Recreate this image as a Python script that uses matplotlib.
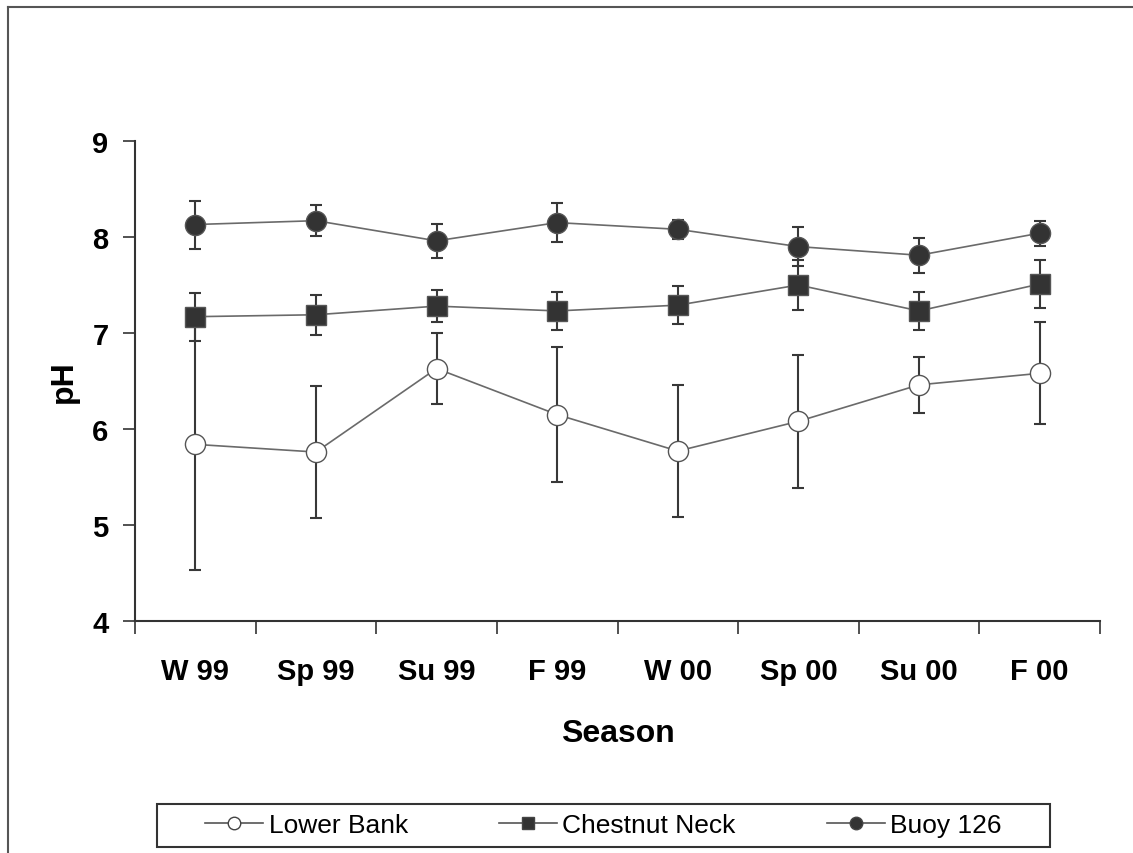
import numpy as np
import matplotlib
matplotlib.use('Agg')
import matplotlib.pyplot as plt
from matplotlib.lines import Line2D

plt.rcParams['font.family'] = ['Liberation Sans', 'DejaVu Sans']

# Data
seasons = ['W 99', 'Sp 99', 'Su 99', 'F 99', 'W 00', 'Sp 00', 'Su 00', 'F 00']
lower_bank = [5.84, 5.76, 6.63, 6.15, 5.77, 6.08, 6.46, 6.58]
lower_bank_err = [1.31, 0.69, 0.37, 0.70, 0.69, 0.69, 0.29, 0.53]
chestnut = [7.17, 7.19, 7.28, 7.23, 7.29, 7.50, 7.23, 7.51]
chestnut_err = [0.25, 0.21, 0.17, 0.20, 0.20, 0.26, 0.20, 0.25]
buoy = [8.13, 8.17, 7.96, 8.15, 8.08, 7.90, 7.81, 8.04]
buoy_err = [0.25, 0.16, 0.18, 0.20, 0.10, 0.20, 0.18, 0.13]

series = [
    ('Lower Bank', lower_bank, lower_bank_err, 'o', 'white'),
    ('Chestnut Neck', chestnut, chestnut_err, 's', '#333333'),
    ('Buoy 126', buoy, buoy_err, 'o', '#333333'),
]

fig = plt.figure(figsize=(11.33, 8.54), dpi=100)
ax = fig.add_axes([135 / 1133, 1 - 622 / 854, (1100 - 135) / 1133, (622 - 142) / 854])

x = np.arange(len(seasons))

# error bars first so markers sit on top
for name, vals, err, mk, fc in series:
    ax.errorbar(x, vals, yerr=err, fmt='none', ecolor='#383838', elinewidth=1.5,
                capsize=4.5, capthick=1.5, zorder=2)

handles = []
for name, vals, err, mk, fc in series:
    ax.plot(x, vals, color='#6a6a6a', lw=1.2, marker=mk, markersize=14.5,
            markerfacecolor=fc, markeredgecolor='#555555', markeredgewidth=1.0,
            zorder=3)
    handles.append(Line2D([], [], color='#555555', lw=1.2, marker=mk, markersize=9,
                          markerfacecolor=fc, markeredgecolor='#444444',
                          markeredgewidth=1.0, label=name))

ax.set_xlim(-0.5, len(seasons) - 0.5)
ax.set_ylim(4, 9)
ax.set_yticks([4, 5, 6, 7, 8, 9])
ax.set_xticks(np.arange(-0.5, len(seasons), 1.0))
ax.set_xticklabels([])
ax.set_xticks(x, minor=True)
ax.set_xticklabels(seasons, minor=True, fontsize=21, fontweight='bold')
ax.tick_params(axis='x', which='minor', length=0, pad=26)
ax.tick_params(axis='x', which='major', direction='out', length=9, width=1.2,
               color='#333333')
ax.tick_params(axis='y', direction='out', length=9, width=1.2, color='#333333',
               pad=10, labelsize=21)
for lab in ax.get_yticklabels():
    lab.set_fontweight('bold')

for s in ['top', 'right']:
    ax.spines[s].set_visible(False)
for s in ['left', 'bottom']:
    ax.spines[s].set_linewidth(1.5)
    ax.spines[s].set_color('#333333')

ax.set_xlabel('Season', fontsize=23, fontweight='bold', labelpad=24)
ax.set_ylabel('pH', fontsize=23, fontweight='bold', labelpad=10)

leg = fig.legend(handles=handles, loc='center', ncol=3,
                 bbox_to_anchor=(157 / 1133, 1 - 848 / 854, (1050 - 157) / 1133, 43 / 854),
                 fontsize=19, frameon=False,
                 handlelength=2.2, handletextpad=0.2, columnspacing=3.45,
                 borderaxespad=0, borderpad=0.2)
# legend box spans the fixed rectangle
fig.add_artist(plt.Rectangle((157 / 1133, 1 - 848 / 854), (1050 - 157) / 1133, 43 / 854,
                             transform=fig.transFigure, fill=False,
                             edgecolor='#333333', lw=1.5))

# outer frame (left and top edges visible)
fig.add_artist(Line2D([8 / 1133, 8 / 1133], [0, 1 - 8 / 854], transform=fig.transFigure,
                      color='#555555', lw=1.5))
fig.add_artist(Line2D([8 / 1133, 1], [1 - 8 / 854, 1 - 8 / 854], transform=fig.transFigure,
                      color='#555555', lw=1.5))

fig.savefig('out.png', dpi=100)
